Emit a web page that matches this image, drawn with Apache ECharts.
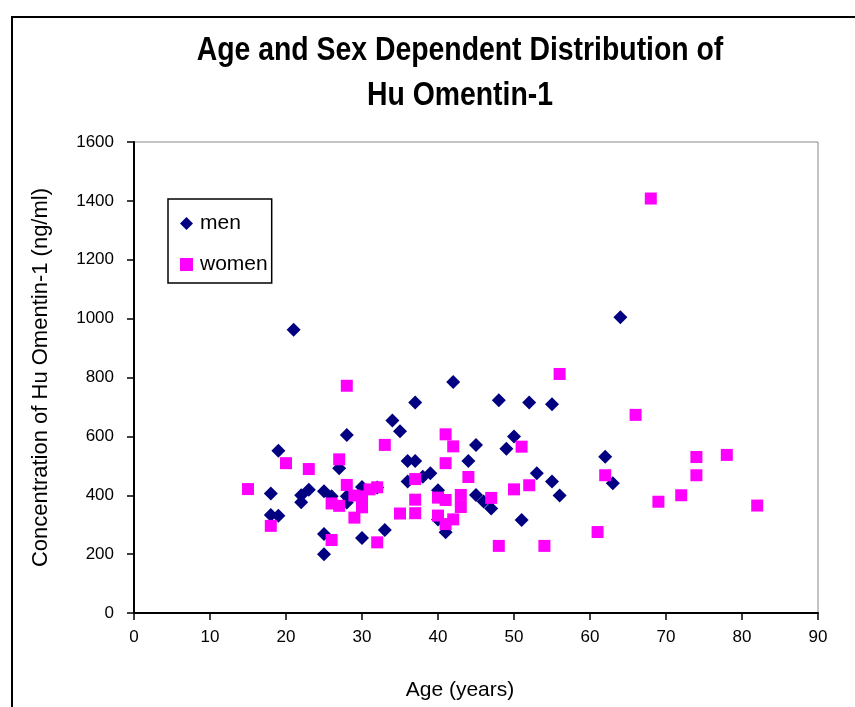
<!DOCTYPE html>
<html>
<head>
<meta charset="utf-8">
<script src="https://cdn.jsdelivr.net/npm/echarts@6/dist/echarts.min.js"></script>
<style>html,body{margin:0;padding:0;background:#fff;}#c{width:855px;height:707px;}</style>
</head>
<body>
<div id="c"></div>
<script>
const titleLines = ["Age and Sex Dependent Distribution of", "Hu Omentin-1"];
const xName = "Age (years)";
const yName = "Concentration of Hu Omentin-1 (ng/ml)";
const seriesNames = ["men", "women"];
const menAge = [21,28,19,27,18,23,22,22,25,26,28,28,30,18,19,25,25,30,33,32,64,42,37,48,52,55,34,35,50,49,45,36,37,44,62,63,53,55,56,36,38,39,40,40,41,45,46,47,51];
const menVal = [962,605,551,492,406,419,400,376,414,397,397,375,428,333,330,268,200,255,282,426,1005,785,715,723,715,709,654,617,600,558,571,516,516,516,531,441,475,447,399,447,463,475,417,318,274,401,379,355,316];
const womenAge = [28,33,20,23,27,15,28,29,30,31,32,26,27,30,29,18,26,32,56,41,42,51,41,44,37,62,50,52,47,43,43,40,41,37,37,35,40,42,41,48,54,61,68,66,74,78,74,72,69,82];
const womenVal = [772,571,509,489,522,421,435,399,396,420,427,372,364,359,324,296,248,240,812,607,566,565,509,462,455,468,420,434,391,401,360,392,384,385,339,338,331,318,302,228,228,275,1408,673,530,537,468,400,378,365];

const FONT = "'Liberation Sans',Arial,sans-serif";
const chart = echarts.init(document.getElementById('c'), null, {renderer: 'canvas'});
chart.setOption({
  backgroundColor: '#fff',
  animation: false,
  graphic: [
    {type: 'rect', shape: {x: 12, y: 17, width: 900, height: 800},
     style: {fill: 'none', stroke: '#000', lineWidth: 2}, silent: true, z: -1},
    {type: 'text', x: 460, y: 51, scaleX: 0.86, silent: true,
     style: {text: titleLines[0], x: 0, y: 0, align: 'center', verticalAlign: 'middle',
             font: "bold 33px 'Liberation Sans', Arial, sans-serif", fill: '#000'}},
    {type: 'text', x: 460, y: 96, scaleX: 0.86, silent: true,
     style: {text: titleLines[1], x: 0, y: 0, align: 'center', verticalAlign: 'middle',
             font: "bold 33px 'Liberation Sans', Arial, sans-serif", fill: '#000'}}
  ],
  legend: {
    orient: 'vertical', left: 168, top: 199,
    data: [{name: 'men', icon: 'diamond'}, {name: 'women', icon: 'rect'}],
    itemWidth: 13, itemHeight: 13, itemGap: 20, align: 'left',
    borderColor: '#000', borderWidth: 1.5, borderRadius: 0,
    padding: [14, 4, 8, 12],
    textStyle: {fontFamily: FONT, fontSize: 21, color: '#000', padding: [0, 0, 0, 2]}
  },
  grid: {left: 134, right: 37, top: 142, bottom: 94, show: true, borderColor: '#888', borderWidth: 1},
  xAxis: {
    type: 'value', min: 0, max: 90, interval: 10,
    name: xName, nameLocation: 'middle', nameGap: 67,
    nameTextStyle: {fontFamily: FONT, fontSize: 21, color: '#000', padding: [0, 32, 0, 0]},
    axisLine: {lineStyle: {color: '#000', width: 2}},
    axisTick: {show: true, length: 7, lineStyle: {color: '#000', width: 1.5}},
    axisLabel: {fontFamily: FONT, fontSize: 17, color: '#000', margin: 16},
    splitLine: {show: false}
  },
  yAxis: {
    type: 'value', min: 0, max: 1600, interval: 200,
    name: yName, nameLocation: 'middle', nameGap: 82,
    nameTextStyle: {fontFamily: FONT, fontSize: 22, color: '#000'},
    axisLine: {show: true, lineStyle: {color: '#000', width: 2}},
    axisTick: {show: true, length: 7, lineStyle: {color: '#000', width: 1.5}},
    axisLabel: {fontFamily: FONT, fontSize: 17, color: '#000', margin: 20, formatter: v => String(v)},
    splitLine: {show: false}
  },
  series: [
    {name: seriesNames[0], type: 'scatter', symbol: 'diamond', symbolSize: 14,
     itemStyle: {color: '#000080', opacity: 1},
     data: menAge.map((a, i) => [a, menVal[i]])},
    {name: seriesNames[1], type: 'scatter', symbol: 'rect', symbolSize: 12,
     itemStyle: {color: '#FF00FF', opacity: 1},
     data: womenAge.map((a, i) => [a, womenVal[i]])}
  ]
});
</script>
</body>
</html>
